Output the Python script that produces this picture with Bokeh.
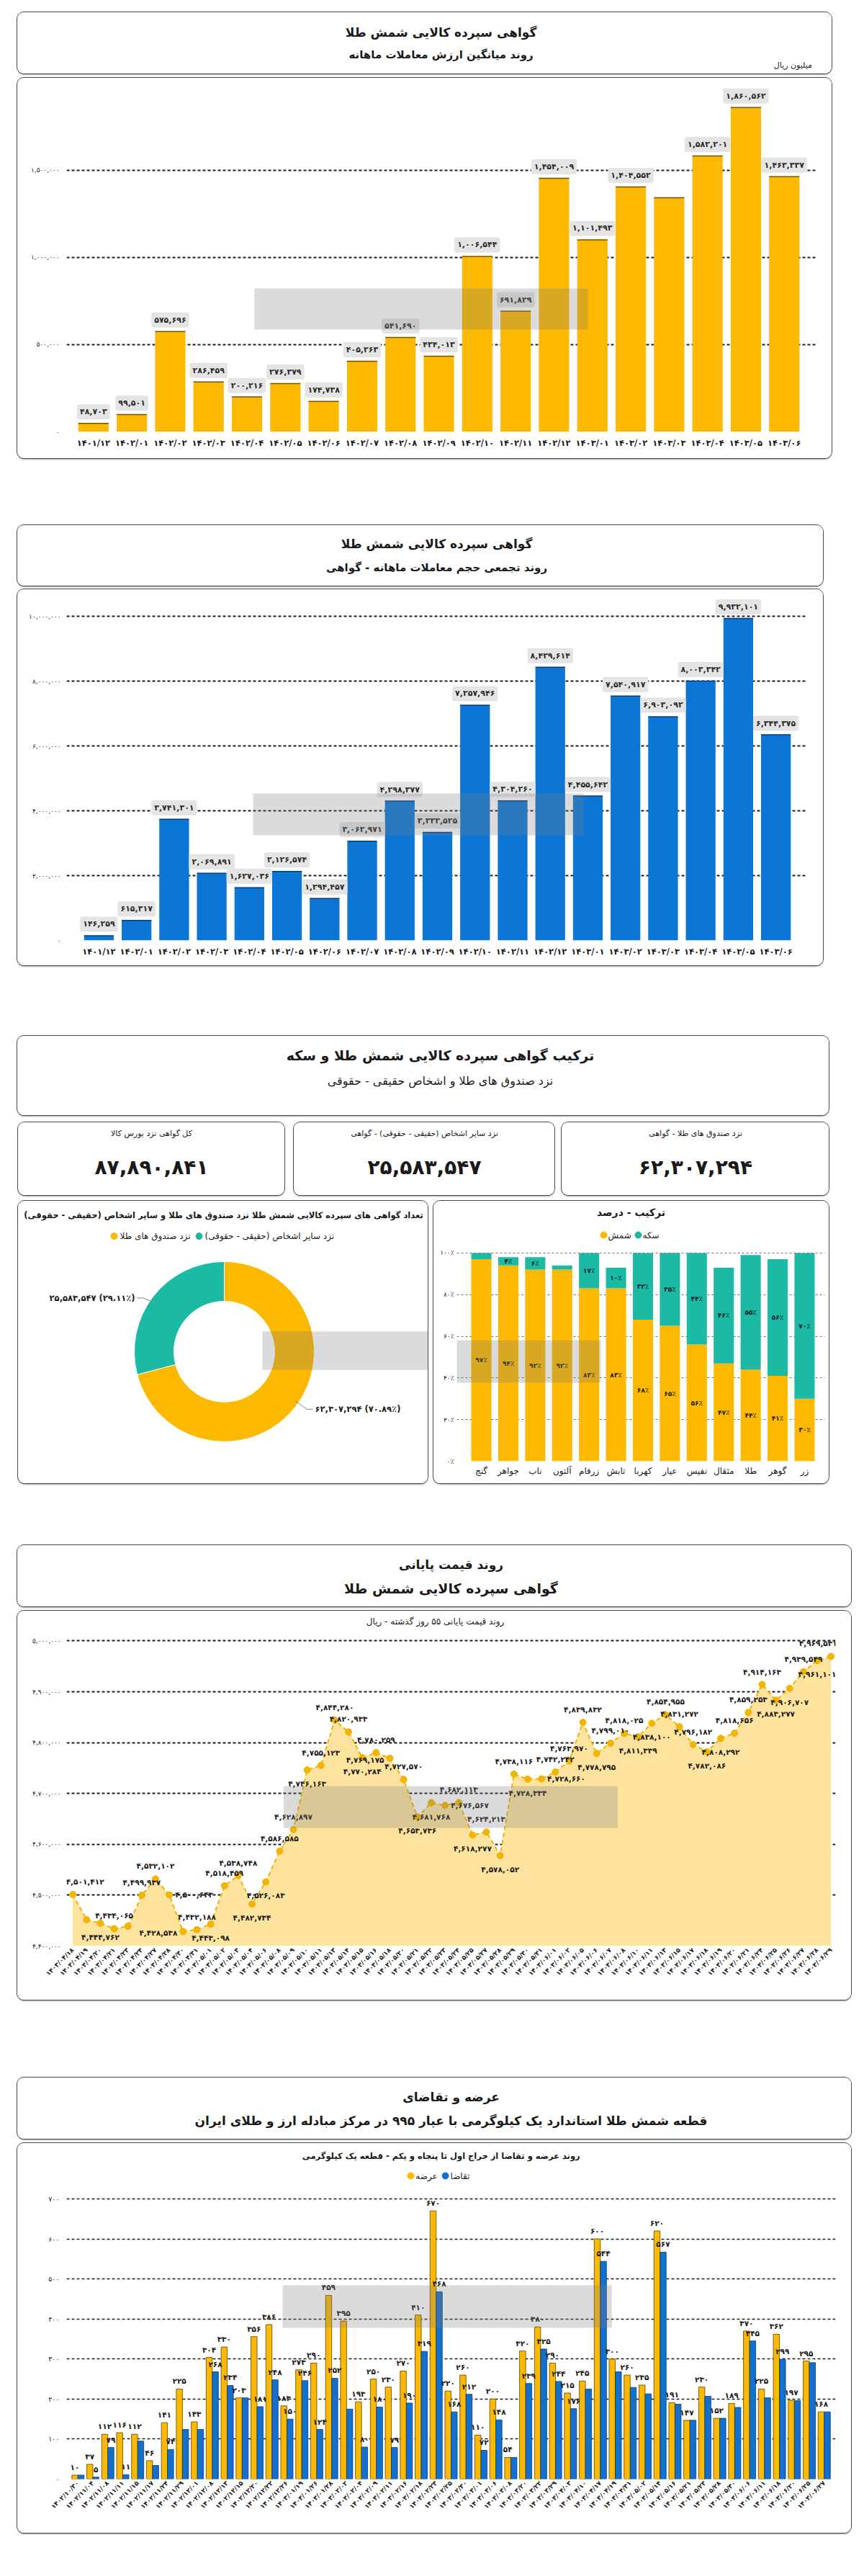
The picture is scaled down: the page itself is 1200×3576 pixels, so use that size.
import math
from bokeh.plotting import figure
from bokeh.models import Range1d, FixedTicker, BoxAnnotation
from bokeh.layouts import column, row
from bokeh.embed import file_html
from bokeh.resources import INLINE
from bokeh.core.properties import value

# ------------------------------------------------------------------ data
months = ["1401/12", "1402/01", "1402/02", "1402/03", "1402/04", "1402/05", "1402/06",
          "1402/07", "1402/08", "1402/09", "1402/10", "1402/11", "1402/12",
          "1403/01", "1403/02", "1403/03", "1403/04", "1403/05", "1403/06"]
avg_value = [48703, 99501, 575696, 286459, 200216, 276379, 174738, 405263, 541690,
             434013, 1006544, 691829, 1454009, 1101493, 1404552, 1343000, 1582201,
             1860562, 1463337]
avg_value_no_label = [15]          # label of 1403/03 is not shown in the source
cum_volume = [146259, 615317, 3741301, 2069891, 1627036, 2126574, 1294457, 3062971,
              4298377, 3333525, 7257946, 4304260, 8429614, 4455642, 7540917, 6903092,
              8003342, 9932101, 6344375]

total_cert = 87890841
others_cert = 25583547
funds_cert = 62307294

fund_names = ["گنج", "جواهر", "ناب", "آلتون", "زرفام", "تابش", "کهربا", "عیار",
              "نفیس", "مثقال", "طلا", "گوهر", "زر"]
bullion_pct = [97, 94, 92, 92, 83, 83, 68, 65, 56, 47, 44, 41, 30]
coin_pct = [3, 4, 6, 2, 17, 10, 32, 35, 44, 46, 55, 56, 70]

price_dates = ["1403/04/18", "1403/04/19", "1403/04/20", "1403/04/21", "1403/04/23",
               "1403/04/24", "1403/04/27", "1403/04/28", "1403/04/30", "1403/04/31",
               "1403/05/01", "1403/05/02", "1403/05/03", "1403/05/04", "1403/05/06",
               "1403/05/08", "1403/05/09", "1403/05/10", "1403/05/11", "1403/05/13",
               "1403/05/14", "1403/05/15", "1403/05/16", "1403/05/18", "1403/05/20",
               "1403/05/21", "1403/05/22", "1403/05/23", "1403/05/24", "1403/05/25",
               "1403/05/27", "1403/05/28", "1403/05/29", "1403/05/30", "1403/05/31",
               "1403/06/01", "1403/06/02", "1403/06/05", "1403/06/06", "1403/06/07",
               "1403/06/08", "1403/06/10", "1403/06/11", "1403/06/13", "1403/06/15",
               "1403/06/17", "1403/06/18", "1403/06/19", "1403/06/20", "1403/06/21",
               "1403/06/24", "1403/06/25", "1403/06/26", "1403/06/27", "1403/06/28",
               "1403/06/29"]
closing_price = [4501412, 4451800, 4444762, 4434065, 4439000, 4499937, 4532102, 4500643,
                 4428538, 4432188, 4443098, 4518459, 4538748, 4482734, 4526083, 4586585,
                 4628897, 4746163, 4755123, 4844280, 4820933, 4770284, 4780259, 4769175,
                 4727570, 4653736, 4681768, 4676567, 4682113, 4618277, 4624213, 4578052,
                 4738116, 4728334, 4728660, 4742242, 4763970, 4839832, 4778795, 4799010,
                 4818025, 4811339, 4838100, 4854955, 4831272, 4796182, 4782086, 4808292,
                 4818656, 4859253, 4914163, 4883277, 4906707, 4939549, 4961101, 4969531]
# where each value label sits: a=above, ar/al=above right/left, b=below, l=left, r=right, n=none
price_label_side = ["ar", "n", "b", "a", "n", "a", "a", "r", "l", "a", "b", "a", "a", "b",
                    "b", "a", "a", "b", "a", "a", "a", "b", "a", "l", "a", "b", "b", "r",
                    "a", "b", "a", "b", "a", "b", "r", "a", "a", "a", "b", "a", "a", "b",
                    "b", "a", "a", "a", "b", "b", "a", "a", "a", "b", "b", "a", "b", "al"]

auction_dates = ["1402/10/30", "1402/11/04", "1402/11/08", "1402/11/11", "1402/11/15",
                 "1402/11/17", "1402/11/24", "1402/11/29", "1402/12/01", "1402/12/08",
                 "1402/12/13", "1402/12/15", "1402/12/20", "1402/12/22", "1402/12/26",
                 "1403/01/19", "1403/01/26", "1403/01/28", "1403/02/02", "1403/02/04",
                 "1403/02/09", "1403/02/11", "1403/02/16", "1403/02/18", "1403/02/23",
                 "1403/02/25", "1403/02/30", "1403/03/01", "1403/03/06", "1403/03/08",
                 "1403/03/20", "1403/03/22", "1403/03/29", "1403/04/03", "1403/04/10",
                 "1403/04/17", "1403/04/19", "1403/04/31", "1403/05/02", "1403/05/14",
                 "1403/05/16", "1403/05/21", "1403/05/23", "1403/05/28", "1403/05/30",
                 "1403/06/06", "1403/06/11", "1403/06/18", "1403/06/20", "1403/06/25",
                 "1403/06/27"]
supply = [10, 37, 112, 116, 112, 46, 141, 225, 143, 304, 330, 203, 356, 386, 183, 273,
          290, 459, 395, 193, 250, 230, 270, 410, 670, 220, 260, 110, 200, 54, 320, 380,
          290, 215, 245, 600, 300, 260, 235, 620, 191, 147, 230, 152, 189, 370, 225, 362,
          197, 295, 168]
demand = [10, 5, 79, 11, 95, 34, 74, 124, 124, 268, 234, 203, 181, 248, 150, 246, 124,
          252, 175, 80, 180, 79, 190, 319, 468, 168, 212, 72, 148, 54, 239, 325, 244, 176,
          225, 544, 268, 229, 213, 567, 187, 147, 207, 152, 179, 345, 203, 299, 196, 291,
          168]
# demand labels that are printed in the source
demand_labelled = [1, 2, 3, 6, 9, 10, 12, 13, 14, 15, 16, 17, 19, 20, 21, 22, 23, 24, 25,
                   26, 27, 28, 30, 31, 32, 33, 35, 39, 45, 47]

# ------------------------------------------------------------------ style
FONT = "DejaVu Sans"
GOLD = "#FDB900"
GOLD_EDGE = "#6E5300"
BLUE1 = "#0B76D6"
BLUE5 = "#1370CE"
BLUE_EDGE = "#0A3A6E"
TEAL = "#1CB9A5"
AREA = "#FDE39E"
LINEC = "#F2B400"
TXT = "#1a1a1a"
RLM = "\u200f"
BOX_STYLE = {"outline": "1.5px solid #4a4a4a", "border-radius": "9px",
             "overflow": "hidden", "box-shadow": "0 2px 2px rgba(0,0,0,0.35)"}

TR = str.maketrans("0123456789%", "۰۱۲۳۴۵۶۷۸۹٪")


def fa(s):
    return str(s).translate(TR)


def fnum(v):
    return fa(f"{int(v):,}")


def style_axis(ax, size="9px", bold=False, standoff=8):
    ax.axis_line_color = None
    ax.major_tick_line_color = None
    ax.minor_tick_line_color = None
    ax.major_tick_out = 0
    ax.major_tick_in = 0
    ax.major_label_standoff = standoff
    ax.major_label_text_font = FONT
    ax.major_label_text_font_size = size
    ax.major_label_text_color = TXT
    ax.major_label_text_font_style = "bold" if bold else "normal"


def chart(box, frame, xr, yr):
    bx0, by0, bx1, by1 = box
    fl, ft, fr, fb = frame
    p = figure(width=bx1 - bx0, height=by1 - by0, x_range=Range1d(*xr), y_range=Range1d(*yr),
               output_backend="svg", toolbar_location=None,
               min_border_left=fl - bx0, min_border_right=bx1 - fr,
               min_border_top=ft - by0, min_border_bottom=by1 - fb, styles=BOX_STYLE)
    p.outline_line_color = None
    p.xgrid.grid_line_color = None
    p.ygrid.grid_line_color = "#1e1e1e"
    p.ygrid.grid_line_dash = "4 3"
    p.ygrid.grid_line_width = 2
    p.yaxis.minor_tick_line_color = None

    def X(px):
        return xr[0] + (px - fl) / (fr - fl) * (xr[1] - xr[0])

    def Y(py):
        return yr[0] + (fb - py) / (fb - ft) * (yr[1] - yr[0])
    return p, X, Y


def panel(box):
    x0, y0, x1, y1 = box
    w, h = x1 - x0, y1 - y0
    p = figure(width=w, height=h, x_range=Range1d(0, w), y_range=Range1d(0, h),
               output_backend="svg", toolbar_location=None, min_border=0,
               x_axis_location=None, y_axis_location=None, styles=BOX_STYLE)
    p.grid.visible = False
    p.outline_line_color = None
    return p, (lambda px: px - x0), (lambda py: y1 - py)


def txt(p, x, y, s, size, bold=False, align="center", color=TXT, baseline="middle"):
    p.text(x=[x], y=[y], text=[s], text_font=value(FONT), text_font_size=size,
           text_font_style="bold" if bold else "normal", text_align=align,
           text_baseline=baseline, text_color=color)


def mark(p, X, Y, x0, y0, x1, y1):
    p.add_layout(BoxAnnotation(left=X(x0), right=X(x1), top=Y(y0), bottom=Y(y1),
                               fill_color="#7d7d7d", fill_alpha=0.28, line_color=None))


def dot(p, x, y, color):
    p.scatter(x=[x], y=[y], size=9, fill_color=color, line_color=color)


# ------------------------------------------------------------------ section 1
t1, X, Y = panel((32, 25, 1163, 110))
txt(t1, X(597), Y(52), "گواهی سپرده کالایی شمش طلا", "17px", True)
txt(t1, X(597), Y(83), "روند میانگین ارزش معاملات ماهانه", "15px", True)
txt(t1, X(1157), Y(98), "میلیون ریال", "11px", False, align="right")

c1, X, Y = chart((32, 116, 1163, 644), (100, 122, 1157, 607), (-0.70, 18.83), (0, 2.004e6))
idx1 = list(range(len(months)))
c1.vbar(x=idx1, top=avg_value, width=0.79, fill_color=GOLD, line_color=None)
c1.segment(x0=[i - 0.395 for i in idx1], x1=[i + 0.395 for i in idx1],
           y0=avg_value, y1=avg_value, line_color=GOLD_EDGE, line_width=1.5)
lab = [i for i in idx1 if i not in avg_value_no_label]
c1.text(x=lab, y=[avg_value[i] for i in lab], text=[fnum(avg_value[i]) for i in lab],
        text_font=value(FONT), text_font_size="11px", text_font_style="bold",
        text_color="#2a2a2a", text_align="center", text_baseline="middle", y_offset=-16,
        background_fill_color="#E4E4E4", padding=4, border_radius=3)
yt = [0, 500000, 1000000, 1500000]
c1.yaxis.ticker = FixedTicker(ticks=yt)
c1.yaxis.major_label_overrides = {t: fnum(t) for t in yt}
c1.xaxis.ticker = FixedTicker(ticks=idx1)
c1.xaxis.major_label_overrides = {i: fa(m) for i, m in enumerate(months)}
style_axis(c1.yaxis, "9px", False, 10)
style_axis(c1.xaxis, "11.5px", True, 8)
mark(c1, X, Y, 365, 408, 835, 465)

# ------------------------------------------------------------------ section 2
t2, X, Y = panel((32, 737, 1151, 821))
txt(t2, X(591), Y(762), "گواهی سپرده کالایی شمش طلا", "17px", True)
txt(t2, X(591), Y(795), "روند تجمعی حجم معاملات ماهانه - گواهی", "15px", True)

c2, X, Y = chart((32, 826, 1151, 1348), (93, 832, 1146, 1313), (-0.86, 18.84), (0, 10.69e6))
c2.vbar(x=idx1, top=cum_volume, width=0.79, fill_color=BLUE1, line_color=None)
c2.segment(x0=[i - 0.395 for i in idx1], x1=[i + 0.395 for i in idx1],
           y0=cum_volume, y1=cum_volume, line_color="#083d70", line_width=1.5)
c2.text(x=idx1, y=cum_volume, text=[fnum(v) for v in cum_volume],
        text_font=value(FONT), text_font_size="11px", text_font_style="bold",
        text_color="#2a2a2a", text_align="center", text_baseline="middle", y_offset=-16,
        background_fill_color="#E4E4E4", padding=4, border_radius=3)
yt = [0, 2000000, 4000000, 6000000, 8000000, 10000000]
c2.yaxis.ticker = FixedTicker(ticks=yt)
c2.yaxis.major_label_overrides = {t: fnum(t) for t in yt}
c2.xaxis.ticker = FixedTicker(ticks=idx1)
c2.xaxis.major_label_overrides = {i: fa(m) for i, m in enumerate(months)}
style_axis(c2.yaxis, "9px", False, 8)
style_axis(c2.xaxis, "11.5px", True, 8)
mark(c2, X, Y, 358, 1109, 828, 1167)

# ------------------------------------------------------------------ section 3
t3, X, Y = panel((32, 1446, 1159, 1556))
txt(t3, X(596), Y(1472), "ترکیب گواهی سپرده کالایی شمش طلا و سکه", "19px", True)
txt(t3, X(596), Y(1508), "نزد صندوق های طلا و اشخاص حقیقی - حقوقی", "16px", False)

stat_boxes = []
for box, head, num in [((33, 1566, 403, 1667), "کل گواهی نزد بورس کالا", total_cert),
                       ((416, 1566, 778, 1667), "نزد سایر اشخاص (حقیقی - حقوقی) - گواهی", others_cert),
                       ((788, 1566, 1159, 1667), "نزد صندوق های طلا - گواهی", funds_cert)]:
    sp, X, Y = panel(box)
    cx = (box[0] + box[2]) / 2
    txt(sp, X(cx), Y(1581), head, "11px", False)
    txt(sp, X(cx), Y(1628), fnum(num), "28px", True)
    stat_boxes.append(sp)

don, X, Y = panel((33, 1675, 602, 2067))
txt(don, X(318), Y(1690), "تعداد گواهی های سپرده کالایی شمش طلا نزد صندوق های طلا و سایر اشخاص (حقیقی - حقوقی)" + RLM, "11.5px", True)
dot(don, X(166), Y(1722), GOLD)
txt(don, X(174), Y(1722), "نزد صندوق های طلا", "12px", False, align="left")
dot(don, X(284), Y(1722), TEAL)
txt(don, X(292), Y(1722), "نزد سایر اشخاص (حقیقی - حقوقی)" + RLM, "12px", False, align="left")
share_f = funds_cert / (funds_cert + others_cert)
share_o = others_cert / (funds_cert + others_cert)
cxd, cyd, r_out, r_in = X(319), Y(1899), 125, 70
a_top = math.pi / 2
don.annular_wedge(x=[cxd, cxd], y=[cyd, cyd], inner_radius=r_in, outer_radius=r_out,
                  start_angle=[a_top - 2 * math.pi * share_f, a_top],
                  end_angle=[a_top, a_top + 2 * math.pi * share_o],
                  fill_color=[GOLD, TEAL], line_color="white", line_width=1)
mo = a_top + math.pi * share_o
mf = a_top - math.pi * share_f
po = (cxd + r_out * math.cos(mo), cyd + r_out * math.sin(mo))
pf = (cxd + r_out * math.cos(mf), cyd + r_out * math.sin(mf))
don.line(x=[po[0], po[0] - 14, po[0] - 22], y=[po[1], po[1] + 6, po[1] + 6], line_color="#888", line_width=1)
don.line(x=[pf[0], pf[0] + 16, pf[0] + 24], y=[pf[1], pf[1] - 12, pf[1] - 12], line_color="#888", line_width=1)
txt(don, po[0] - 25, po[1] + 6, fnum(others_cert) + " (" + fa(f"{share_o * 100:.2f}%") + ")", "11.5px", True, align="right")
txt(don, pf[0] + 27, pf[1] - 12, fnum(funds_cert) + " (" + fa(f"{share_f * 100:.2f}%") + ")", "11.5px", True, align="left")
mark(don, X, Y, 372, 1868, 602, 1927)

stk, X, Y = chart((610, 1675, 1159, 2067), (642, 1681, 1153, 2036), (-0.91, 12.75), (0, 122.8))
idx3 = list(range(len(fund_names)))
tops = [b + c for b, c in zip(bullion_pct, coin_pct)]
stk.vbar(x=idx3, bottom=0, top=bullion_pct, width=0.75, fill_color=GOLD, line_color=None)
stk.vbar(x=idx3, bottom=bullion_pct, top=tops, width=0.75, fill_color=TEAL, line_color=None)
stk.text(x=idx3, y=[b / 2 for b in bullion_pct], text=[fa(f"{b}%") for b in bullion_pct],
         text_font=value(FONT), text_font_size="9px", text_font_style="bold", text_color=TXT,
         text_align="center", text_baseline="middle")
ci = [i for i in idx3 if coin_pct[i] >= 4]
stk.text(x=ci, y=[bullion_pct[i] + coin_pct[i] / 2 for i in ci], text=[fa(f"{coin_pct[i]}%") for i in ci],
         text_font=value(FONT), text_font_size="9px", text_font_style="bold", text_color=TXT,
         text_align="center", text_baseline="middle")
stk.ygrid.grid_line_color = "#777777"
stk.ygrid.grid_line_width = 1
stk.ygrid.grid_line_dash = "3 3"
yt = [0, 20, 40, 60, 80, 100]
stk.yaxis.ticker = FixedTicker(ticks=yt)
stk.yaxis.major_label_overrides = {t: fa(f"{t}%") for t in yt}
stk.xaxis.ticker = FixedTicker(ticks=idx3)
stk.xaxis.major_label_overrides = {i: n for i, n in enumerate(fund_names)}
style_axis(stk.yaxis, "9px", False, 4)
style_axis(stk.xaxis, "12px", False, 6)
txt(stk, X(884), Y(1690), "ترکیب - درصد", "14px", True)
dot(stk, X(846), Y(1722), GOLD)
txt(stk, X(852), Y(1722), "شمش", "12px", False, align="left")
dot(stk, X(894), Y(1722), TEAL)
txt(stk, X(900), Y(1722), "سکه", "12px", False, align="left")
mark(stk, X, Y, 610, 1868, 842, 1927)

# ------------------------------------------------------------------ section 4
t4, X, Y = panel((32, 2153, 1190, 2238))
txt(t4, X(611), Y(2179), "روند قیمت پایانی", "17px", True)
txt(t4, X(611), Y(2212), "گواهی سپرده کالایی شمش طلا", "19px", True)

ymax4 = 4.4e6 + (2709 - 2250) / 706 * 1e6
c4, X, Y = chart((32, 2244, 1190, 2784), (98, 2250, 1168, 2709), (-0.45, 55.33), (4.4e6, ymax4))
idx4 = list(range(len(closing_price)))
c4.varea(x=idx4, y1=[4.4e6] * len(idx4), y2=closing_price, fill_color=AREA)
c4.line(x=idx4, y=closing_price, line_color=LINEC, line_width=2, line_dash="6 4")
c4.scatter(x=idx4, y=closing_price, size=9, fill_color=LINEC, line_color=LINEC)
for side, xo, yo, al in [("a", 0, -18, "center"), ("ar", 17, -18, "center"),
                         ("al", -18, -18, "center"), ("b", 0, 19, "center"),
                         ("l", -8, 2, "right"), ("r", 8, 0, "left")]:
    ii = [i for i in idx4 if price_label_side[i] == side]
    c4.text(x=ii, y=[closing_price[i] for i in ii], text=[fnum(closing_price[i]) for i in ii],
            text_font=value(FONT), text_font_size="10.5px", text_font_style="bold",
            text_color=TXT, text_align=al, text_baseline="middle", x_offset=xo, y_offset=yo)
yt = [4400000 + 100000 * k for k in range(7)]
c4.yaxis.ticker = FixedTicker(ticks=yt)
c4.yaxis.major_label_overrides = {t: fnum(t) for t in yt}
c4.xaxis.ticker = FixedTicker(ticks=idx4)
c4.xaxis.major_label_overrides = {i: fa(d) for i, d in enumerate(price_dates)}
c4.xaxis.major_label_orientation = math.pi / 4
style_axis(c4.yaxis, "9px", False, 8)
style_axis(c4.xaxis, "9px", True, 4)
txt(c4, X(611), Y(2258), "روند قیمت پایانی ۵۵ روز گذشته - ریال", "12px", False)
mark(c4, X, Y, 400, 2487, 865, 2545)

# ------------------------------------------------------------------ section 5
t5, X, Y = panel((32, 2892, 1190, 2977))
txt(t5, X(611), Y(2918), "عرضه و تقاضای", "17px", True)
txt(t5, X(611), Y(2951), "قطعه شمش طلا استاندارد یک کیلوگرمی با عیار ۹۹۵ در مرکز مبادله ارز و طلای ایران", "17px", True)

ymax5 = (3449 - 2989) / (389 / 700)
c5, X, Y = chart((32, 2983, 1190, 3524), (82, 2989, 1168, 3449), (-0.76, 50.76), (0, ymax5))
idx5 = list(range(len(supply)))
xs_s = [i - 0.205 for i in idx5]
xs_d = [i + 0.205 for i in idx5]
c5.vbar(x=xs_s, top=supply, width=0.41, fill_color=GOLD, line_color="#5c4500", line_width=0.8)
c5.vbar(x=xs_d, top=demand, width=0.41, fill_color=BLUE5, line_color=BLUE_EDGE, line_width=0.8)
c5.text(x=xs_s, y=supply, text=[fnum(v) for v in supply], text_font=value(FONT),
        text_font_size="10.5px", text_font_style="bold", text_color=TXT,
        text_align="center", text_baseline="bottom", y_offset=-5)
c5.text(x=[xs_d[i] for i in demand_labelled], y=[demand[i] for i in demand_labelled],
        text=[fnum(demand[i]) for i in demand_labelled], text_font=value(FONT),
        text_font_size="10.5px", text_font_style="bold", text_color=TXT,
        text_align="center", text_baseline="bottom", y_offset=-5)
c5.ygrid.grid_line_width = 1.6
yt = [100 * k for k in range(8)]
c5.yaxis.ticker = FixedTicker(ticks=yt)
c5.yaxis.major_label_overrides = {t: fnum(t) for t in yt}
c5.xaxis.ticker = FixedTicker(ticks=idx5)
c5.xaxis.major_label_overrides = {i: fa(d) for i, d in enumerate(auction_dates)}
c5.xaxis.major_label_orientation = math.pi / 4
style_axis(c5.yaxis, "9.5px", False, 10)
style_axis(c5.xaxis, "9px", True, 4)
txt(c5, X(611), Y(3000), "روند عرضه و تقاضا از حراج اول تا پنجاه و یکم - قطعه یک کیلوگرمی", "11.5px", True)
dot(c5, X(568), Y(3028), GOLD)
txt(c5, X(575), Y(3028), "عرضه", "12px", False, align="left")
dot(c5, X(617), Y(3028), BLUE5)
txt(c5, X(624), Y(3028), "تقاضا", "12px", False, align="left")
mark(c5, X, Y, 387, 3180, 852, 3239)

# ------------------------------------------------------------------ layout
t1.margin = (17, 0, 0, 24)
c1.margin = (6, 0, 0, 24)
t2.margin = (93, 0, 0, 24)
c2.margin = (5, 0, 0, 24)
t3.margin = (98, 0, 0, 24)
stat_boxes[0].margin = (0, 0, 0, 25)
stat_boxes[1].margin = (0, 0, 0, 13)
stat_boxes[2].margin = (0, 0, 0, 10)
r1 = row(*stat_boxes)
r1.margin = (10, 0, 0, 0)
don.margin = (0, 0, 0, 25)
stk.margin = (0, 0, 0, 8)
r2 = row(don, stk)
r2.margin = (8, 0, 0, 0)
t4.margin = (86, 0, 0, 24)
c4.margin = (6, 0, 0, 24)
t5.margin = (108, 0, 0, 24)
c5.margin = (6, 0, 0, 24)

page = column(t1, c1, t2, c2, t3, r1, r2, t4, c4, t5, c5)
open("out.html", "w").write(file_html(page, INLINE, title="gold certificates"))
